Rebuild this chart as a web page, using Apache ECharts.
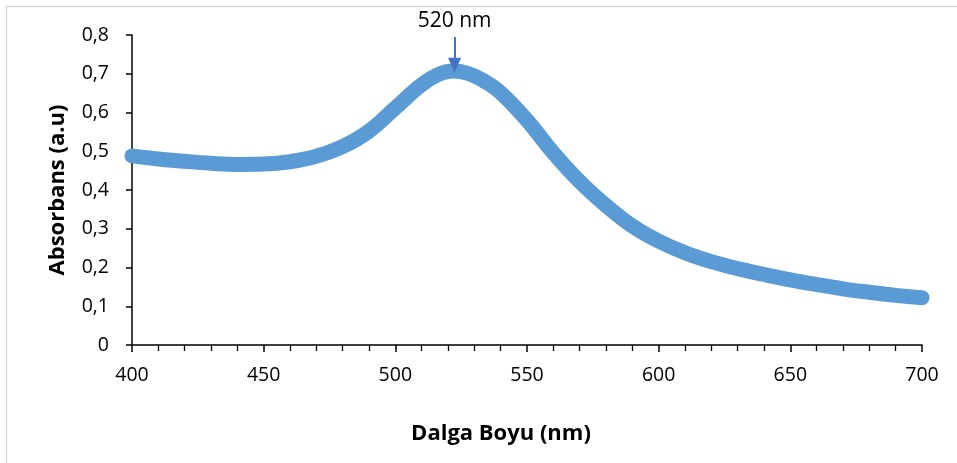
<!DOCTYPE html>
<html style="width:100%;height:100%">
<head>
    <meta charset="UTF-8">
    <title>Absorbans</title>
    <script type="text/javascript" src="https://cdn.jsdelivr.net/npm/echarts@6/dist/echarts.min.js"></script>
</head>
<body style="margin:0;width:100%;height:100%;overflow:hidden;background:#fff">
    <div id="chart" style="width:957px;height:463px"></div>

    <script type="text/javascript">
        var myChart = echarts.init(document.getElementById('chart'));

        // wavelength (nm) and absorbance
        var wavelengths = [400, 410, 420, 430, 440, 450, 460, 470, 480, 490, 500, 510, 516, 522, 528, 534, 540, 550,
                           560, 570, 580, 590, 600, 610, 620, 630, 640, 650, 660, 670, 680, 690, 700];
        var absorbance = [0.488, 0.480, 0.474, 0.469, 0.466, 0.467, 0.473, 0.487, 0.512, 0.552, 0.612, 0.672, 0.697, 0.707, 0.700, 0.680, 0.651, 0.580,
                          0.496, 0.422, 0.360, 0.307, 0.268, 0.238, 0.215, 0.197, 0.182, 0.168, 0.156, 0.145, 0.136, 0.128, 0.122];
        var peakNm = 522.5;
        var peakLabel = '520 nm';

        var font = '"Open Sans", "Noto Sans", sans-serif';

        option = {
            animation: false,
            backgroundColor: '#fff',
            graphic: [{
                type: 'rect',
                shape: { x: 6.5, y: 6.5, width: 1000, height: 1000 },
                style: { fill: 'none', stroke: '#d9d9d9', lineWidth: 1.5 },
                silent: true
            }],
            grid: {
                left: 132,
                right: 35,
                top: 35,
                bottom: 118
            },
            xAxis: {
                type: 'value',
                min: 400,
                max: 700,
                interval: 50,
                name: 'Dalga Boyu (nm)',
                nameLocation: 'middle',
                nameGap: 78,
                nameTextStyle: { fontFamily: font, fontSize: 22, fontWeight: 'bold', color: '#000', padding: [0, 52, 0, 0] },
                axisLine: { lineStyle: { color: '#000', width: 1.5 } },
                axisTick: { inside: false, length: 7, lineStyle: { color: '#000', width: 1.5 } },
                minorTick: { show: true, splitNumber: 5, length: 6, lineStyle: { color: '#000', width: 1.3 } },
                axisLabel: { fontFamily: font, fontSize: 19.5, color: '#000', margin: 20 },
                splitLine: { show: false }
            },
            yAxis: {
                type: 'value',
                min: 0,
                max: 0.8,
                interval: 0.1,
                name: 'Absorbans (a.u)',
                nameLocation: 'middle',
                nameGap: 63,
                nameTextStyle: { fontFamily: font, fontSize: 22, fontWeight: 'bold', color: '#000' },
                axisLine: { show: true, lineStyle: { color: '#000', width: 1.5 } },
                axisTick: { show: true, inside: false, length: 6, lineStyle: { color: '#000', width: 1.5 } },
                axisLabel: {
                    fontFamily: font, fontSize: 19.5, color: '#000', margin: 23,
                    formatter: function (v) {
                        return v === 0 ? '0' : v.toFixed(1).replace('.', ',');
                    }
                },
                splitLine: { show: false }
            },
            series: [{
                type: 'line',
                smooth: 0.4,
                symbol: 'none',
                data: wavelengths.map(function (w, i) { return [w, absorbance[i]]; }),
                lineStyle: { color: '#5b9bd5', width: 15, cap: 'round', join: 'round' },
                markLine: {
                    silent: true,
                    symbol: ['none', 'triangle'],
                    symbolSize: [13, 15],
                    lineStyle: { color: '#4472c4', width: 2, type: 'solid' },
                    label: {
                        show: true,
                        position: 'start',
                        formatter: peakLabel,
                        fontFamily: font,
                        fontSize: 21,
                        color: '#000',
                        distance: 5
                    },
                    data: [[
                        { coord: [peakNm, 0.795] },
                        { coord: [peakNm, 0.722] }
                    ]]
                }
            }]
        };

        myChart.setOption(option);
    </script>
</body>
</html>
